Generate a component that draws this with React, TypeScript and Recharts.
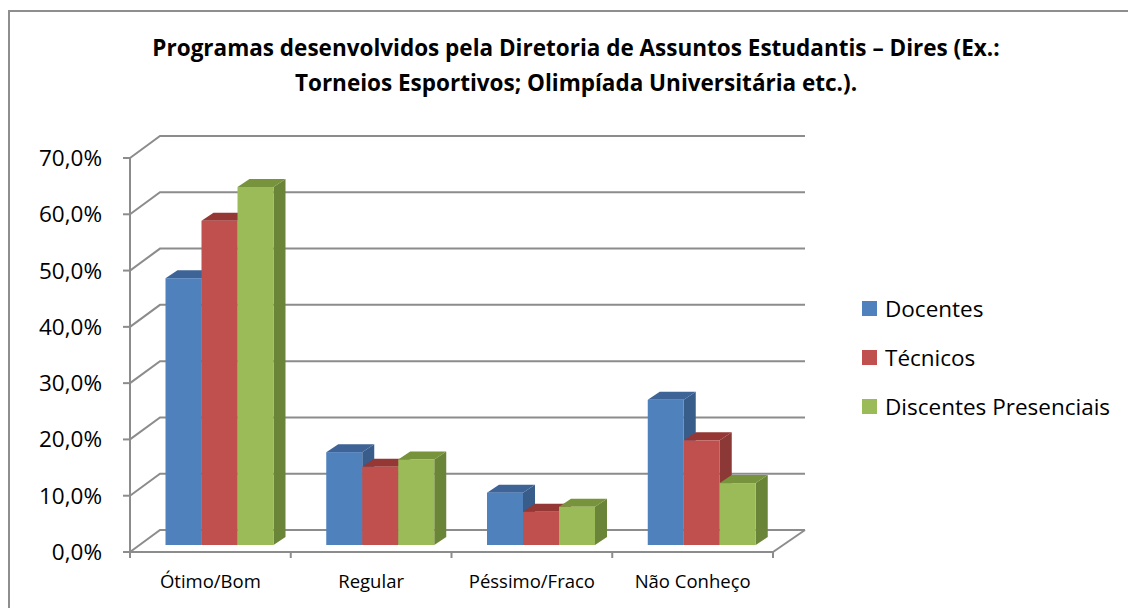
import React from 'react';
import { BarChart, Bar, XAxis, YAxis, CartesianGrid, Legend } from 'recharts';

const categories = ['Ótimo/Bom', 'Regular', 'Péssimo/Fraco', 'Não Conheço'];
const docentes = [0.474, 0.165, 0.093, 0.258];
const tecnicos = [0.576, 0.139, 0.059, 0.186];
const discentes = [0.636, 0.152, 0.068, 0.11];
const yTicks = [0, 0.1, 0.2, 0.3, 0.4, 0.5, 0.6, 0.7];

const series = [
  { key: 'docentes', name: 'Docentes', front: '#4F81BD', top: '#3D6397', side: '#385D8A' },
  { key: 'tecnicos', name: 'Técnicos', front: '#C0504D', top: '#953735', side: '#8C3836' },
  { key: 'discentes', name: 'Discentes Presenciais', front: '#9BBB59', top: '#77933C', side: '#6B8538' },
];

const data = categories.map((category, i) => ({
  category,
  docentes: docentes[i],
  tecnicos: tecnicos[i],
  discentes: discentes[i],
}));

const FONT = '"Open Sans", sans-serif';
const GRID = '#8c8c8c';

// plot box (chart coords)
const PLOT_LEFT = 122;
const PLOT_RIGHT = 765;
const PLOT_TOP = 150;
const PLOT_BOTTOM = 544;
const BAND = (PLOT_RIGHT - PLOT_LEFT) / categories.length;

// 3d look: back wall offset, bar depth, bar offset from the floor edge
const WALL_DX_L = 30;
const WALL_DX_R = 32;
const WALL_DY = -22;
const BAR_DX = 12;
const BAR_DY = -8;
const BAR_SHIFT_X = 9.5;
const BAR_SHIFT_Y = -7;

const pct = (v: number) => `${(v * 100).toFixed(1).replace('.', ',')}%`;

const make3DBar = (s: typeof series[number]) => (props: any) => {
  const { x, y, width, height } = props;
  if (width == null || height == null || isNaN(y)) return <g />;
  const fx = x + BAR_SHIFT_X;
  const fy = y + BAR_SHIFT_Y;
  const w = width;
  const h = height;
  const top = `${fx},${fy} ${fx + BAR_DX},${fy + BAR_DY} ${fx + w + BAR_DX},${fy + BAR_DY} ${fx + w},${fy}`;
  const side = `${fx + w},${fy} ${fx + w + BAR_DX},${fy + BAR_DY} ${fx + w + BAR_DX},${fy + h + BAR_DY} ${fx + w},${fy + h}`;
  return (
    <g>
      <polygon points={side} fill={s.side} />
      <polygon points={top} fill={s.top} />
      <rect x={fx} y={fy} width={w} height={h} fill={s.front} />
    </g>
  );
};

const wallLine = (props: any) => {
  const { x1, x2, y1, index } = props;
  const isFloor = Math.abs(y1 - PLOT_BOTTOM) < 1;
  const pts = `${x1},${y1} ${x1 + WALL_DX_L},${y1 + WALL_DY} ${x2 + WALL_DX_R},${y1 + WALL_DY}`;
  return (
    <g key={`wall-${index}`}>
      <polyline points={pts} fill="none" stroke={GRID} strokeWidth={2} />
      {isFloor && (
        <line x1={x2} y1={y1} x2={x2 + WALL_DX_R} y2={y1 + WALL_DY} stroke={GRID} strokeWidth={2} />
      )}
    </g>
  );
};

const CategoryTick = (props: any) => {
  const { x, payload, index } = props;
  const half = BAND / 2;
  return (
    <g>
      <line x1={x - half} y1={PLOT_BOTTOM} x2={x - half} y2={PLOT_BOTTOM + 6} stroke={GRID} strokeWidth={2} />
      {index === categories.length - 1 && (
        <line x1={x + half} y1={PLOT_BOTTOM} x2={x + half} y2={PLOT_BOTTOM + 6} stroke={GRID} strokeWidth={2} />
      )}
      <text x={x} y={580} textAnchor="middle" fontSize={18.5} fontFamily={FONT} fill="#000">
        {payload.value}
      </text>
    </g>
  );
};

const renderLegend = () => (
  <div style={{ fontFamily: FONT, fontSize: 22.5, color: '#000' }}>
    {series.map((s) => (
      <div key={s.key} style={{ display: 'flex', alignItems: 'center', height: 49 }}>
        <span style={{ width: 15, height: 15, background: s.front, marginRight: 8, display: 'inline-block' }} />
        <span>{s.name}</span>
      </div>
    ))}
  </div>
);

export default function App() {
  return (
    <div
      style={{
        position: 'fixed',
        left: 8,
        top: 8,
        width: 1120,
        height: 600,
        overflow: 'hidden',
        background: '#fff',
      }}
    >
      <div
        style={{
          position: 'absolute',
          left: 0,
          top: 2,
          width: 1140,
          height: 640,
          border: '2px solid #8e8e8e',
          boxSizing: 'border-box',
        }}
      />
      <div
        style={{
          position: 'absolute',
          left: 16,
          width: 1104,
          top: 22,
          textAlign: 'center',
          fontFamily: FONT,
          fontWeight: 'bold',
          fontSize: 22.5,
          lineHeight: '35px',
          color: '#000',
        }}
      >
        <div>Programas desenvolvidos pela Diretoria de Assuntos Estudantis – Dires (Ex.:</div>
        <div>Torneios Esportivos; Olimpíada Universitária etc.).</div>
      </div>
      <BarChart
        width={1120}
        height={600}
        data={data}
        margin={{ top: PLOT_TOP, right: 1120 - PLOT_RIGHT, bottom: 16, left: 22 }}
        barGap={0}
        barSize={36}
        style={{ position: 'absolute', left: 0, top: 0 }}
      >
        <CartesianGrid horizontal={wallLine} vertical={false} />
        <XAxis
          dataKey="category"
          height={40}
          axisLine={{ stroke: GRID, strokeWidth: 2 }}
          tickLine={false}
          tick={<CategoryTick />}
          interval={0}
        />
        <YAxis
          width={100}
          domain={[0, 0.7]}
          ticks={yTicks}
          interval={0}
          tickFormatter={pct}
          axisLine={{ stroke: GRID, strokeWidth: 2 }}
          tickLine={{ stroke: GRID, strokeWidth: 2 }}
          tickSize={7}
          tickMargin={21}
          tick={{ fontSize: 22.5, fontFamily: FONT, fill: '#000' }}
        />
        <Legend
          layout="vertical"
          align="center"
          verticalAlign="middle"
          content={renderLegend}
          wrapperStyle={{ left: 854, top: 276, width: 260 }}
        />
        {series.map((s) => (
          <Bar
            key={s.key}
            dataKey={s.key}
            name={s.name}
            fill={s.front}
            shape={make3DBar(s)}
            isAnimationActive={false}
          />
        ))}
      </BarChart>
    </div>
  );
}
